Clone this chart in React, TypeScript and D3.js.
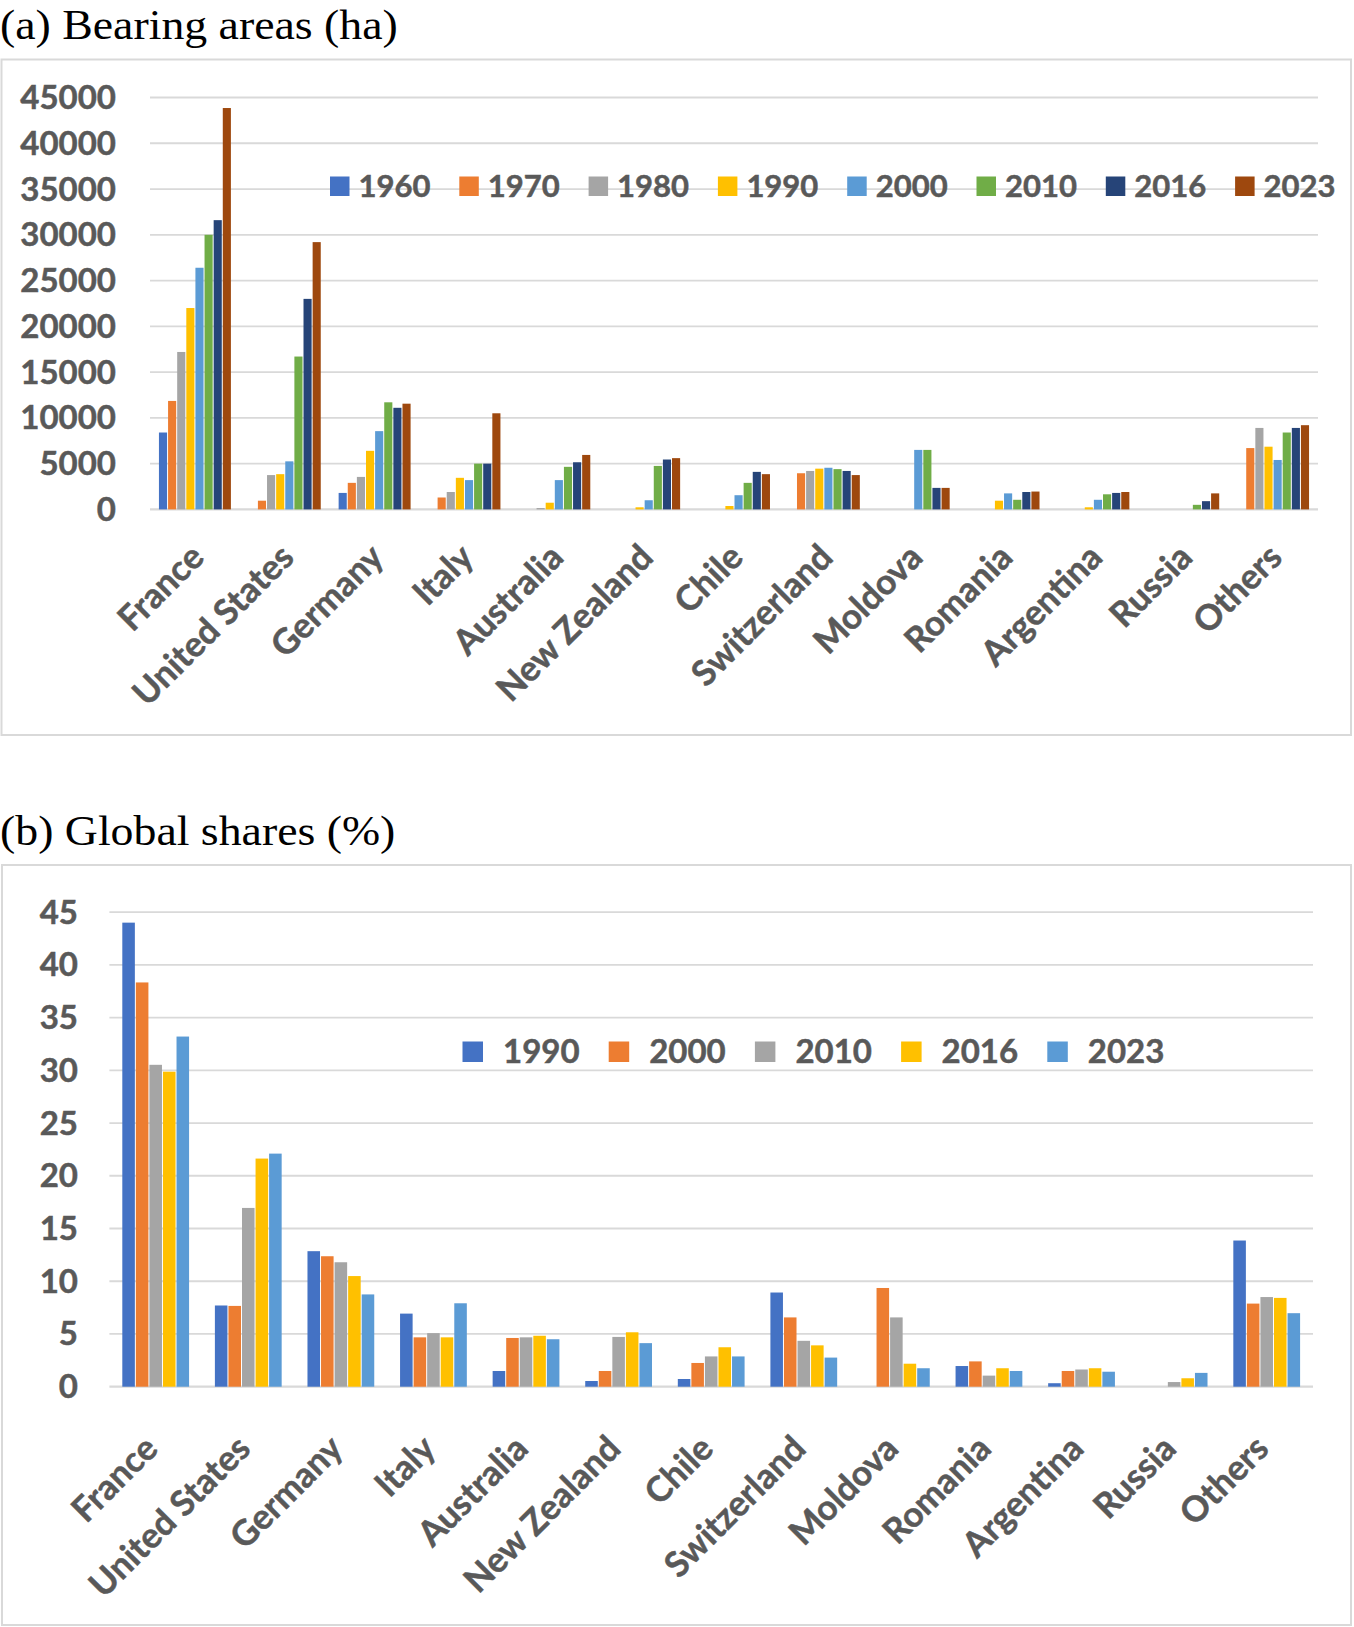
import React from "react";
import * as d3 from "d3";

// Categories shared by both panels
const countries = [
  "France", "United States", "Germany", "Italy", "Australia", "New Zealand",
  "Chile", "Switzerland", "Moldova", "Romania", "Argentina", "Russia", "Others",
];

// (a) Bearing areas (ha), one array per census year, in country order
const areaYears = ["1960", "1970", "1980", "1990", "2000", "2010", "2016", "2023"];
const area1960 = [8400, 0, 1800, 0, 0, 0, 0, 0, 0, 0, 0, 0, 0];
const area1970 = [11850, 950, 2900, 1300, 0, 0, 0, 3950, 0, 0, 0, 0, 6700];
const area1980 = [17200, 3750, 3550, 1900, 150, 0, 0, 4200, 0, 0, 0, 0, 8900];
const area1990 = [22000, 3850, 6400, 3450, 730, 230, 370, 4450, 0, 950, 230, 0, 6850];
const area2000 = [26400, 5250, 8550, 3200, 3200, 1000, 1550, 4550, 6500, 1750, 1050, 0, 5400];
const area2010 = [30000, 16700, 11700, 5000, 4650, 4750, 2900, 4400, 6500, 1050, 1650, 500, 8400];
const area2016 = [31600, 23000, 11100, 5000, 5150, 5450, 4100, 4200, 2350, 1900, 1800, 900, 8900];
const area2023 = [43850, 29200, 11550, 10500, 5950, 5600, 3850, 3750, 2350, 1950, 1900, 1750, 9200];
const areaSeries = [area1960, area1970, area1980, area1990, area2000, area2010, area2016, area2023];
const areaTicks = [0, 5000, 10000, 15000, 20000, 25000, 30000, 35000, 40000, 45000];

// (b) Global shares (%)
const shareYears = ["1990", "2000", "2010", "2016", "2023"];
const share1990 = [44.0, 7.7, 12.85, 6.93, 1.49, 0.54, 0.73, 8.93, 0, 1.96, 0.33, 0, 13.86];
const share2000 = [38.33, 7.66, 12.37, 4.68, 4.62, 1.49, 2.25, 6.57, 9.36, 2.4, 1.49, 0, 7.88];
const share2010 = [30.52, 16.95, 11.8, 5.08, 4.68, 4.72, 2.87, 4.35, 6.57, 1.05, 1.63, 0.44, 8.5];
const share2016 = [29.87, 21.63, 10.49, 4.68, 4.83, 5.16, 3.74, 3.92, 2.18, 1.75, 1.75, 0.8, 8.42];
const share2023 = [33.2, 22.1, 8.75, 7.91, 4.5, 4.13, 2.87, 2.76, 1.75, 1.49, 1.42, 1.31, 6.97];
const shareSeries = [share1990, share2000, share2010, share2016, share2023];
const shareTicks = [0, 5, 10, 15, 20, 25, 30, 35, 40, 45];

const areaColors = ["#4472C4", "#ED7D31", "#A5A5A5", "#FFC000", "#5B9BD5", "#70AD47", "#264478", "#9E480E"];
const shareColors = ["#4472C4", "#ED7D31", "#A5A5A5", "#FFC000", "#5B9BD5"];

const TEXT = "#595959";
const GRID = "#D9D9D9";
const SANS = "Lato, 'Open Sans', sans-serif";
const SERIF = "'Liberation Serif', 'Times New Roman', serif";
const TICK_FS = 33;
const LABEL_FS = 35;

// bold sans text with a hairline outline to give it a heavier weight
const sansStyle = {
  fontFamily: SANS,
  fontWeight: 700,
  fill: TEXT,
  stroke: TEXT,
  strokeWidth: 0.5,
} as const;

type PanelProps = {
  title: string;
  titleY: number;
  frame: [number, number, number, number];
  plot: { left: number; right: number; top: number; bottom: number };
  ticks: number[];
  tickRight: number;
  years: string[];
  series: number[][];
  colors: string[];
  groupFrac: number;
  legend: { x: number; y: number; step: number; size: number; gap: number; fs: number };
  label: { dx: number; dy: number };
};

function Panel(p: PanelProps) {
  const x = d3.scaleBand<string>().domain(countries).range([p.plot.left, p.plot.right]);
  const y = d3
    .scaleLinear()
    .domain([0, p.ticks[p.ticks.length - 1]])
    .range([p.plot.bottom, p.plot.top]);
  const groupW = x.step() * p.groupFrac;
  const inner = d3.scaleBand<string>().domain(p.years).range([0, groupW]);
  const [fx, fy, fw, fh] = p.frame;
  return (
    <g>
      {/* panel heading, set slightly wide */}
      <text
        transform={`translate(0,${p.titleY}) scale(1.065,1)`}
        fontFamily={SERIF}
        fontSize={43}
        fill="#000"
      >
        {p.title}
      </text>
      <rect x={fx} y={fy} width={fw} height={fh} fill="#fff" stroke={GRID} strokeWidth={2} />
      {p.ticks.map((t) => (
        <g key={t}>
          <line
            x1={p.plot.left}
            x2={p.plot.right}
            y1={y(t)}
            y2={y(t)}
            stroke={GRID}
            strokeWidth={t === 0 ? 2.2 : 1.8}
          />
          <text x={p.tickRight} y={y(t) + 11.5} textAnchor="end" fontSize={TICK_FS} {...sansStyle}>
            {t}
          </text>
        </g>
      ))}
      {countries.map((c, ci) => {
        const g0 = (x(c) as number) + (x.step() - groupW) / 2;
        return (
          <g key={c}>
            {p.series.map((s, si) => {
              const v = s[ci];
              if (!v) return null;
              const bx = g0 + (inner(p.years[si]) as number);
              return (
                <rect
                  key={si}
                  x={bx + 0.5}
                  y={y(v)}
                  width={inner.bandwidth() - 1}
                  height={y(0) - y(v)}
                  fill={p.colors[si]}
                />
              );
            })}
          </g>
        );
      })}
      {countries.map((c) => {
        const cx = (x(c) as number) + x.step() / 2;
        return (
          <text
            key={c}
            transform={`translate(${cx + p.label.dx},${p.plot.bottom + p.label.dy}) rotate(-45)`}
            textAnchor="end"
            fontSize={LABEL_FS}
            {...sansStyle}
          >
            {c}
          </text>
        );
      })}
      {p.years.map((yr, i) => {
        const lx = p.legend.x + i * p.legend.step;
        return (
          <g key={yr}>
            <rect
              x={lx}
              y={p.legend.y - p.legend.size}
              width={p.legend.size}
              height={p.legend.size}
              fill={p.colors[i]}
            />
            <text
              x={lx + p.legend.size + p.legend.gap}
              y={p.legend.y + 0.5}
              fontSize={p.legend.fs}
              {...sansStyle}
            >
              {yr}
            </text>
          </g>
        );
      })}
    </g>
  );
}

export default function App() {
  return (
    <svg
      width={1354}
      height={1627}
      style={{ position: "absolute", left: 0, top: 0, background: "#fff" }}
    >
      <Panel
        title="(a) Bearing areas (ha)"
        titleY={38.5}
        frame={[1.5, 59.5, 1349.5, 675.5]}
        plot={{ left: 150, right: 1318, top: 97.5, bottom: 509.4 }}
        ticks={areaTicks}
        tickRight={116}
        years={areaYears}
        series={areaSeries}
        colors={areaColors}
        groupFrac={0.812}
        legend={{ x: 330, y: 196, step: 129.3, size: 19.5, gap: 9, fs: 31 }}
        label={{ dx: 11, dy: 50 }}
      />
      <Panel
        title="(b) Global shares (%)"
        titleY={845}
        frame={[2, 865, 1349, 760]}
        plot={{ left: 109.4, right: 1313, top: 912.1, bottom: 1386.7 }}
        ticks={shareTicks}
        tickRight={78}
        years={shareYears}
        series={shareSeries}
        colors={shareColors}
        groupFrac={0.732}
        legend={{ x: 462.5, y: 1062, step: 146.2, size: 20.5, gap: 20, fs: 33 }}
        label={{ dx: 4, dy: 64 }}
      />
    </svg>
  );
}
